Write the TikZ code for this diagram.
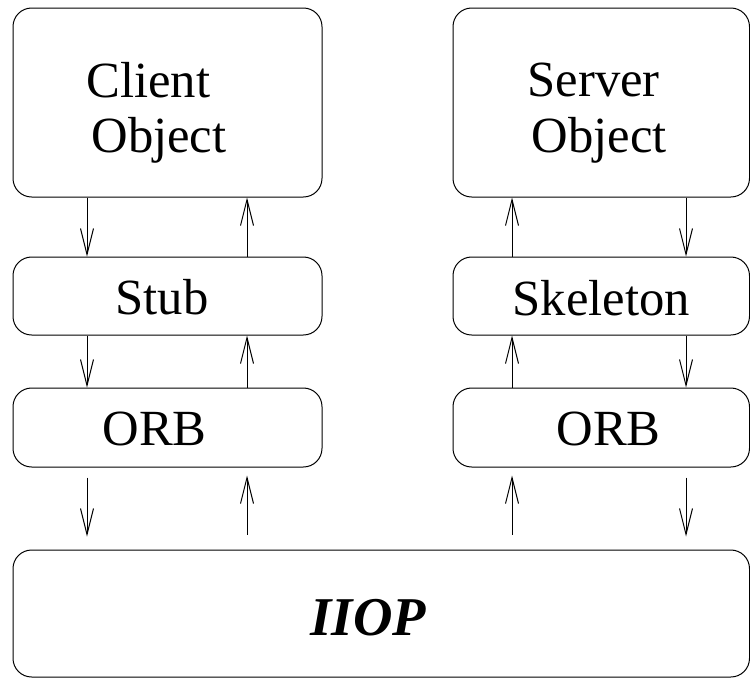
\documentclass[tikz,border=0pt]{standalone}
\usepackage{fontspec}
\setmainfont{Liberation Serif}
\usetikzlibrary{arrows.meta}

\tikzset{every picture/.style={line width=0.75pt}}
\tikzset{
  box/.style={draw, rounded corners=14pt, inner sep=0pt},
  lbl/.style={anchor=base west, inner sep=0pt, font=\fontsize{38}{42}\selectfont},
  sig/.style={-{Straight Barb[length=19.5pt,width=9.75pt]}}
}

\begin{document}
\begin{tikzpicture}[x=0.75pt,y=0.75pt,yscale=-1,xscale=1]
\useasboundingbox (0,0) rectangle (750,679);

%Client side boxes
\node[box, minimum width=231.75pt, minimum height=141.75pt] (client) at (167.5,102.5) {};
\node[box, minimum width=231.75pt, minimum height=58.5pt] (stub) at (167.5,296) {};
\node[box, minimum width=231.75pt, minimum height=59.25pt] (orbC) at (167.5,427.5) {};
%Server side boxes
\node[box, minimum width=222.375pt, minimum height=141.75pt] (server) at (601.25,102.5) {};
\node[box, minimum width=222.375pt, minimum height=58.5pt] (skel) at (601.25,296) {};
\node[box, minimum width=222.375pt, minimum height=59.25pt] (orbS) at (601.25,427.5) {};
%Protocol box
\node[box, minimum width=552.375pt, minimum height=95.25pt] (iiop) at (381.25,613.5) {};

% Text Node
\node[lbl] (clientA) at (86,97) {Client};
\node[lbl] (clientB) at (91,152) {Object};
\node[lbl] (serverA) at (527,96) {Server};
\node[lbl] (serverB) at (531,152) {Object};
\node[lbl] (stubT) at (115,314) {Stub};
\node[lbl] (skelT) at (512,315) {Skeleton};
\node[lbl] (orbCT) at (102,445) {ORB};
\node[lbl] (orbST) at (556,445) {ORB};
\node[anchor=base west, inner sep=0pt, font=\fontsize{41}{45}\selectfont\bfseries\itshape] (iiopT) at (310,635) {IIOP};

%arrow columns
\coordinate (cDown) at (87,0);
\coordinate (cUp) at (247,0);
\coordinate (sUp) at (512,0);
\coordinate (sDown) at (686,0);

%Client side arrows
\draw[sig] (client.south -| cDown) -- (stub.north -| cDown);
\draw[sig] (stub.north -| cUp) -- (client.south -| cUp);
\draw[sig] (stub.south -| cDown) -- (orbC.north -| cDown);
\draw[sig] (orbC.north -| cUp) -- (stub.south -| cUp);
\draw[sig, shorten <=7.5pt, shorten >=9.75pt] (orbC.south -| cDown) -- (iiop.north -| cDown);
\draw[sig, shorten <=11.25pt, shorten >=6pt] (iiop.north -| cUp) -- (orbC.south -| cUp);
%Server side arrows
\draw[sig] (server.south -| sDown) -- (skel.north -| sDown);
\draw[sig] (skel.north -| sUp) -- (server.south -| sUp);
\draw[sig] (skel.south -| sDown) -- (orbS.north -| sDown);
\draw[sig] (orbS.north -| sUp) -- (skel.south -| sUp);
\draw[sig, shorten <=7.5pt, shorten >=9.75pt] (orbS.south -| sDown) -- (iiop.north -| sDown);
\draw[sig, shorten <=11.25pt, shorten >=6pt] (iiop.north -| sUp) -- (orbS.south -| sUp);

\end{tikzpicture}
\end{document}
